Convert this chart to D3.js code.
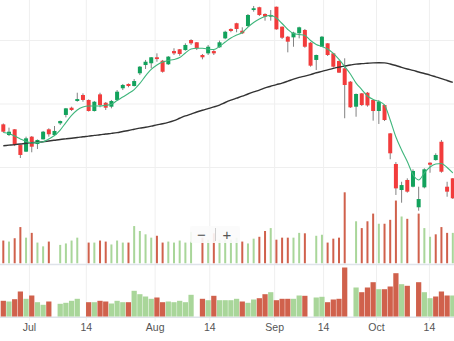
<!DOCTYPE html>
<html>
<head>
<meta charset="utf-8">
<script src="https://cdn.jsdelivr.net/npm/d3@7"></script>
<style>
  html, body { margin: 0; padding: 0; background: #fff; }
  svg { display: block; }
</style>
</head>
<body>
<svg id="chart" width="454" height="341"></svg>
<script>
// Daily OHLC, one entry per trading slot
const open = [43.36,42.52,42.97,41.73,41.21,42.39,41.81,42.18,42.97,42.52,
  43.44,44.10,44.67,45.20,45.67,45.28,44.41,45.72,45.06,44.75,
  45.28,46.20,46.54,46.38,47.38,48.03,48.17,48.64,48.37,48.09,
  49.13,49.27,49.21,50.00,49.82,48.82,48.95,49.13,49.43,50.13,
  50.87,51.32,50.73,51.10,52.36,52.58,52.05,51.84,52.62,51.05,
  50.26,50.21,50.53,50.79,49.79,48.43,49.47,49.74,48.95,48.35,
  47.77,46.72,44.75,45.80,45.85,45.28,44.41,44.88,42.65,40.24,
  38.19,38.98,38.45,36.83,38.40,40.34,40.55,41.99,38.45,39.11];
const high = [43.43,43.10,42.99,41.75,42.39,42.44,42.17,42.84,43.05,43.23,
  43.66,44.65,44.75,45.85,45.80,45.32,45.20,45.85,45.12,45.28,
  46.06,46.54,46.58,46.93,47.95,48.43,48.66,48.95,48.43,48.74,
  49.35,49.29,49.74,50.06,49.84,48.90,49.61,49.21,49.95,50.73,
  50.92,51.36,51.00,52.05,52.68,52.62,52.10,52.36,52.63,51.06,
  50.32,50.65,51.05,50.87,49.84,48.85,50.32,49.76,48.98,48.39,
  48.56,46.77,45.79,45.83,45.91,45.32,45.28,44.92,42.68,40.39,
  38.84,39.11,39.82,38.45,39.90,40.37,41.08,42.13,38.84,39.13];
const low = [42.72,42.44,41.65,40.71,41.18,41.16,41.42,42.17,42.39,42.48,
  43.31,43.91,44.41,45.14,45.14,44.37,44.37,44.70,44.49,44.62,
  45.24,46.06,46.28,46.34,47.24,47.72,47.77,48.29,47.43,48.03,
  48.82,48.76,49.16,49.61,49.21,48.48,48.82,48.82,49.39,50.06,
  50.61,50.61,50.47,51.05,52.23,51.89,51.52,51.52,50.81,50.08,
  49.03,49.47,50.13,49.39,47.90,47.64,49.45,48.74,47.84,47.40,
  43.84,44.65,43.96,44.80,44.75,43.65,43.39,43.62,40.61,37.80,
  37.19,37.98,38.40,36.56,38.32,39.55,40.50,39.55,37.66,37.48];
const close = [42.78,42.78,41.73,40.95,42.26,41.60,42.13,42.78,42.58,42.84,
  43.62,44.62,44.49,45.35,45.28,44.41,45.14,44.88,44.67,45.20,
  45.93,46.46,46.38,46.77,47.90,48.29,48.64,48.50,47.50,48.69,
  48.95,48.90,49.61,49.74,49.35,48.64,49.47,48.95,49.82,50.65,
  50.71,50.87,50.53,51.97,52.50,51.97,51.84,51.97,50.84,50.18,
  49.87,50.58,51.00,49.47,47.98,48.82,50.26,48.82,47.90,47.43,
  46.46,44.70,45.75,44.88,44.85,44.41,45.14,43.70,41.08,38.32,
  38.58,38.06,39.69,37.48,39.82,40.18,40.95,39.63,38.06,37.54];

// Short and long moving averages
const maFast = [42.72,42.64,42.44,42.21,42.01,41.89,41.93,41.99,42.21,42.48,
  42.91,43.50,44.06,44.49,44.72,44.80,44.80,44.80,44.86,44.94,
  45.24,45.51,45.79,46.10,46.58,47.17,47.68,48.03,48.27,48.39,
  48.47,48.62,48.98,49.29,49.35,49.35,49.29,49.25,49.49,49.84,
  50.16,50.39,50.59,51.02,51.38,51.65,51.85,51.95,51.73,51.30,
  50.83,50.51,50.43,50.35,49.96,49.65,49.49,49.29,48.95,48.47,
  47.91,47.32,46.61,46.10,45.59,45.32,45.16,44.88,43.70,42.36,
  41.34,40.43,39.41,38.98,39.53,40.00,40.24,40.28,39.96,39.53];
const maSlow = [41.68,41.72,41.76,41.81,41.87,41.91,41.95,41.99,42.05,42.11,
  42.17,42.22,42.27,42.32,42.38,42.43,42.49,42.54,42.60,42.65,
  42.71,42.80,42.88,42.97,43.06,43.13,43.22,43.32,43.41,43.52,
  43.66,43.84,44.02,44.17,44.33,44.47,44.60,44.73,44.88,45.08,
  45.26,45.42,45.58,45.75,45.91,46.06,46.23,46.36,46.49,46.61,
  46.76,46.92,47.06,47.16,47.28,47.42,47.53,47.65,47.77,47.87,
  47.95,48.03,48.10,48.14,48.17,48.20,48.21,48.20,48.11,47.99,
  47.85,47.72,47.61,47.48,47.36,47.24,47.10,46.96,46.81,46.66];

// Volume (millions); null = no volume reported
const volume = [15.7,15.0,17.3,25.0,17.7,21.0,14.3,11.7,15.0,null,
  12.7,13.7,15.7,17.7,null,14.3,14.3,15.7,15.0,13.0,
  15.7,14.3,14.3,25.7,22.3,20.0,17.7,19.0,14.3,15.0,
  14.3,15.7,14.3,21.7,null,17.7,16.3,20.7,16.3,16.3,
  16.3,17.7,15.0,13.7,17.0,18.3,22.3,24.3,16.3,17.7,
  17.7,17.7,21.0,20.7,null,19.0,19.7,14.3,17.0,17.7,
  49.0,null,29.0,24.3,29.0,34.3,27.3,27.3,30.0,43.3,
  32.3,30.7,null,34.3,24.3,18.3,20.0,25.0,21.0,21.0];
const volumeUp = [0,1,0,0,1,0,1,1,0,1,
  1,1,1,1,0,0,1,0,0,1,
  1,1,0,1,1,1,1,0,0,1,
  1,1,1,1,0,0,1,0,1,1,
  1,1,0,1,1,0,0,1,0,0,
  0,1,1,0,0,1,1,0,0,0,
  0,0,1,0,0,0,1,0,0,0,
  1,0,1,0,1,1,0,0,0,1];

// Axis ticks (slot positions of month / mid-month boundaries)
const tickSlots = [4.5, 14.5, 26.6, 36.2, 47.6, 56.2, 65.5, 74.8];
const tickLabels = ["Jul", "14", "Aug", "14", "Sep", "14", "Oct", "14"];
const gridPrices = [40, 45, 50];

const W = 454, H = 341;
const n = close.length;
const svg = d3.select("#chart");

const x = d3.scaleLinear().domain([-0.58, 79.21]).range([0, W]);
const y = d3.scaleLinear().domain([32.42, 53.15]).range([263.3, 0]);
const vMax = d3.max(volume);
const yVol = d3.scaleLinear().domain([0, vMax]).range([263.3, 192.3]);
const yNav = d3.scaleLinear().domain([0, vMax]).range([316.5, 267.5]);

const C = {
  up: "#12a25c", down: "#f23c3c", wick: "#828282",
  volUp: "#a9d69a", volDown: "#d0614c",
  grid: "#efefef", fast: "#3fb67c", slow: "#333333", sep: "#dfe3ea"
};

// gridlines
svg.append("g")
  .attr("transform", "translate(0,321)")
  .call(d3.axisBottom(x).tickValues(tickSlots).tickSize(-321).tickFormat(""))
  .call(g => g.select(".domain").remove())
  .call(g => g.selectAll("line").attr("stroke", C.grid));
svg.append("g")
  .call(d3.axisLeft(y).tickValues(gridPrices).tickSize(-W).tickFormat(""))
  .call(g => g.select(".domain").remove())
  .call(g => g.selectAll("line").attr("stroke", C.grid));

const vols = d3.range(n).filter(i => volume[i] != null);

// volume overlay in price pane
svg.append("g").selectAll("rect").data(vols).join("rect")
  .attr("x", i => x(i) - 1)
  .attr("width", 2)
  .attr("y", i => yVol(volume[i]))
  .attr("height", i => yVol(0) - yVol(volume[i]))
  .attr("fill", i => volumeUp[i] ? C.volUp : C.volDown);

// pane separators
svg.append("line").attr("x1", 0).attr("x2", W).attr("y1", 264.5).attr("y2", 264.5)
  .attr("stroke", C.sep).attr("stroke-width", 1.6);
svg.append("line").attr("x1", 0).attr("x2", W).attr("y1", 317.2).attr("y2", 317.2)
  .attr("stroke", C.sep).attr("stroke-width", 1.6);

// volume pane
const bw = (x(1) - x(0)) * 0.92;
svg.append("g").selectAll("rect").data(vols).join("rect")
  .attr("x", i => x(i) - bw / 2)
  .attr("width", bw)
  .attr("y", i => yNav(volume[i]))
  .attr("height", i => yNav(0) - yNav(volume[i]))
  .attr("fill", i => volumeUp[i] ? C.volUp : C.volDown);

// candlesticks
const candles = svg.append("g").selectAll("g").data(d3.range(n)).join("g");
candles.append("line")
  .attr("x1", i => x(i)).attr("x2", i => x(i))
  .attr("y1", i => y(high[i])).attr("y2", i => y(low[i]))
  .attr("stroke", C.wick).attr("stroke-width", 1);
candles.append("rect")
  .attr("x", i => x(i) - 2)
  .attr("width", 4)
  .attr("y", i => y(Math.max(open[i], close[i])))
  .attr("height", i => Math.max(1, Math.abs(y(open[i]) - y(close[i]))))
  .attr("fill", i => close[i] >= open[i] ? C.up : C.down);

// moving averages
const line = d3.line().x((d, i) => x(i)).y(d => y(d)).curve(d3.curveMonotoneX);
svg.append("path").datum(maSlow).attr("d", line)
  .attr("fill", "none").attr("stroke", C.slow).attr("stroke-width", 1.4);
svg.append("path").datum(maFast).attr("d", line)
  .attr("fill", "none").attr("stroke", C.fast).attr("stroke-width", 1.1);

// date labels
svg.append("g")
  .attr("transform", "translate(0,320)")
  .call(d3.axisBottom(x).tickValues(tickSlots).tickSize(0).tickPadding(4)
    .tickFormat((d, i) => tickLabels[i]))
  .call(g => g.select(".domain").remove())
  .call(g => g.selectAll("text")
    .attr("fill", "#555")
    .style("font", "10.5px 'Liberation Sans', Arial, sans-serif"));

// zoom control
const ctl = svg.append("g");
ctl.append("rect").attr("x", 190).attr("y", 226).attr("width", 50).attr("height", 17)
  .attr("rx", 2).attr("fill", "#fbfbfb").attr("fill-opacity", 0.9);
ctl.append("line").attr("x1", 215.5).attr("x2", 215.5).attr("y1", 228).attr("y2", 241)
  .attr("stroke", "#cfcfcf");
ctl.append("text").attr("x", 201.5).attr("y", 239.5).attr("text-anchor", "middle")
  .attr("fill", "#555").style("font", "15px 'Liberation Sans', Arial, sans-serif").text("−");
ctl.append("text").attr("x", 227).attr("y", 239.5).attr("text-anchor", "middle")
  .attr("fill", "#555").style("font", "15px 'Liberation Sans', Arial, sans-serif").text("+");
</script>
</body>
</html>
